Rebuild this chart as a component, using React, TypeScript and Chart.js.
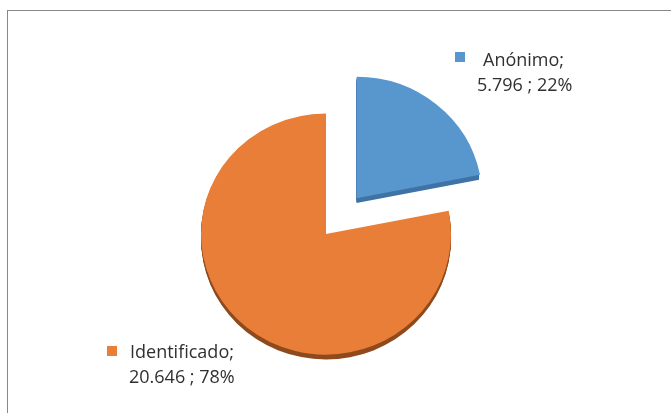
import React, { useEffect, useRef } from "react";
import { Chart, registerables } from "chart.js";

Chart.register(...registerables);

const categories = ["Anónimo", "Identificado"];
const values = [5796, 20646];
const valueLabels = ["5.796", "20.646"];
const percentLabels = ["22%", "78%"];
const colors = ["#5896CE", "#E87E37"];
const sideColors = ["#3F73A6", "#8E4A1C"];
const explode = [192, 0];
const tilt = 0.965;

const depthPlugin = {
  id: "depth",
  beforeDatasetsDraw(chart: any) {
    const meta = chart.getDatasetMeta(0);
    const ctx = chart.ctx;
    const ca = chart.chartArea;
    const cyc = (ca.top + ca.bottom) / 2;
    ctx.save();
    ctx.translate(0, cyc);
    ctx.scale(1, tilt);
    ctx.translate(0, -cyc);
    meta.data.forEach((arc: any, i: number) => {
      const { x, y, startAngle, endAngle, outerRadius } = arc.getProps(
        ["x", "y", "startAngle", "endAngle", "outerRadius"],
        true
      );
      const off = (arc.options.offset || 0) / 4;
      const half = (startAngle + endAngle) / 2;
      const cx = x + Math.cos(half) * off;
      const cy = y + Math.sin(half) * off;
      ctx.save();
      ctx.fillStyle = sideColors[i];
      for (let d = 1; d <= 5; d++) {
        ctx.beginPath();
        ctx.moveTo(cx, cy + d);
        ctx.arc(cx, cy + d, outerRadius, startAngle, endAngle);
        ctx.closePath();
        ctx.fill();
      }
      ctx.restore();
    });
  },
  afterDatasetsDraw(chart: any) {
    chart.ctx.restore();
  },
};

const labelPlugin = {
  id: "labels",
  afterDatasetsDraw(chart: any) {
    const ctx = chart.ctx;
    const spots = [
      { mx: 455, my: 52, tx: 483, ty: 66, t2x: 477 },
      { mx: 107, my: 346, tx: 130, ty: 358, t2x: 129 },
    ];
    ctx.save();
    ctx.font = "18px 'Open Sans'";
    ctx.textBaseline = "alphabetic";
    ctx.textAlign = "left";
    categories.forEach((c, i) => {
      const s = spots[i];
      ctx.fillStyle = colors[i];
      ctx.fillRect(s.mx, s.my, 10, 10);
      ctx.fillStyle = "#303030";
      ctx.fillText(c + ";", s.tx, s.ty);
      ctx.fillText(valueLabels[i] + " ; " + percentLabels[i], s.t2x, s.ty + 25);
    });
    ctx.restore();
  },
};

export default function App() {
  const ref = useRef<HTMLCanvasElement>(null);
  useEffect(() => {
    document.body.style.margin = "0";
    const chart = new Chart(ref.current!, {
      type: "pie",
      data: {
        labels: categories,
        datasets: [
          {
            data: values,
            backgroundColor: colors,
            borderWidth: 0,
            offset: explode,
            hoverOffset: 0,
          },
        ],
      },
      options: {
        responsive: false,
        animation: false,
        layout: { padding: { top: 13, bottom: 25, left: 105, right: 124 } },
        plugins: { legend: { display: false }, tooltip: { enabled: false } },
      },
      plugins: [depthPlugin, labelPlugin],
    });
    return () => chart.destroy();
  }, []);
  return (
    <div
      style={{
        position: "fixed",
        left: 0,
        top: 0,
        width: 671,
        height: 413,
        overflow: "hidden",
        background: "#fff",
      }}
    >
      <div
        style={{
          position: "absolute",
          left: 7,
          top: 10,
          width: 720,
          height: 480,
          border: "1px solid #888888",
        }}
      />
      <canvas
        ref={ref}
        width={671}
        height={480}
        style={{ position: "absolute", left: 0, top: 0, width: 671, height: 480 }}
      />
    </div>
  );
}
